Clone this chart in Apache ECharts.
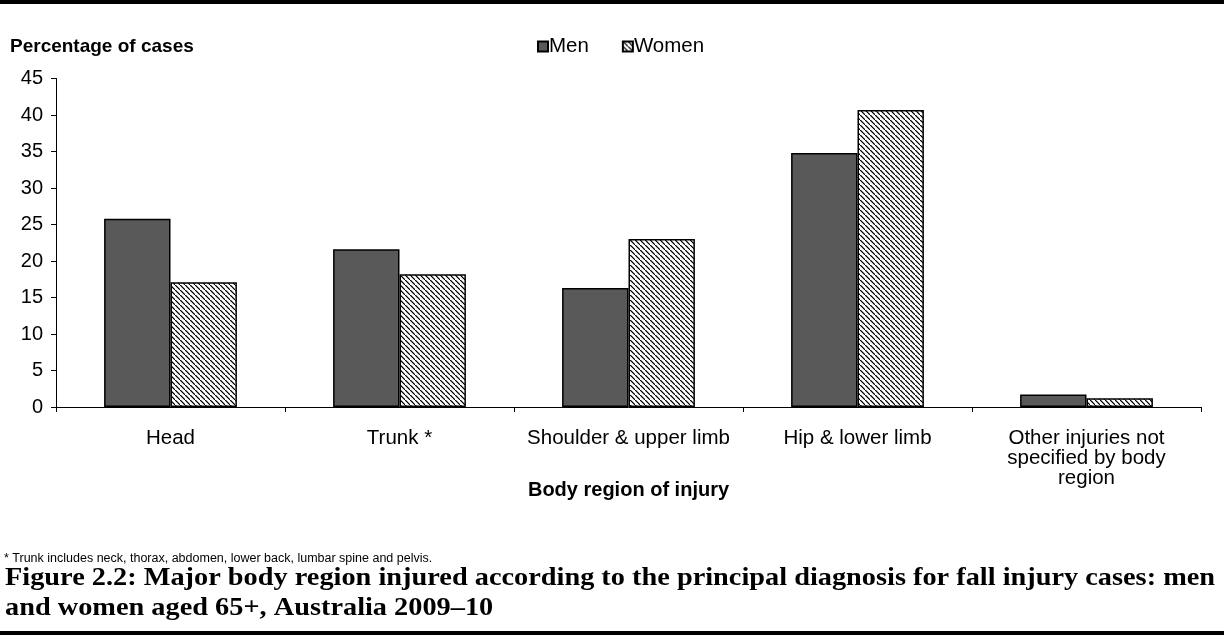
<!DOCTYPE html>
<html>
<head>
<meta charset="utf-8">
<script src="https://cdn.jsdelivr.net/npm/echarts@6/dist/echarts.min.js"></script>
<style>html,body{margin:0;padding:0;background:#fff;}#c{width:1224px;height:635px;}</style>
</head>
<body>
<div id="c"></div>
<script>
const categories = ['Head', 'Trunk *', 'Shoulder & upper limb', 'Hip & lower limb', 'Other injuries not\nspecified by body\nregion'];
const menValues = [25.8, 21.6, 16.3, 34.8, 1.7];
const womenValues = [17.1, 18.2, 23.0, 40.7, 1.2];
const yTicks = { min: 0, max: 45, interval: 5 };

function hatch() {
  const s = 5;
  const cv = document.createElement('canvas');
  cv.width = s; cv.height = s;
  const g = cv.getContext('2d');
  g.fillStyle = '#fff';
  g.fillRect(0, 0, s, s);
  g.fillStyle = '#000';
  for (let i = 0; i < s; i++) {
    g.fillRect(i, i, 1.5, 1.2);
  }
  return cv;
}
const pat = { image: hatch(), repeat: 'repeat' };

const chart = echarts.init(document.getElementById('c'), null, { renderer: 'canvas' });
const font = '"Liberation Sans", Arial, sans-serif';
chart.setOption({
  animation: false,
  backgroundColor: '#fff',
  textStyle: { fontFamily: font, color: '#000' },
  grid: { left: 56, right: 23, top: 78.5, bottom: 228, containLabel: false },
  legend: {
    left: 537, top: 36, padding: 0,
    icon: 'rect',
    itemWidth: 10, itemHeight: 10, itemGap: 33,
    textStyle: { fontFamily: font, fontSize: 20.5, color: '#000', padding: [0, 0, 0, -4] },
    data: ['Men', 'Women']
  },
  xAxis: {
    type: 'category',
    data: categories,
    axisLine: { lineStyle: { color: '#000', width: 1 } },
    axisTick: { show: true, length: 5, lineStyle: { color: '#000' } },
    axisLabel: { fontFamily: font, fontSize: 20.5, color: '#000', margin: 21, lineHeight: 20, interval: 0 },
    name: 'Body region of injury',
    nameLocation: 'middle',
    nameGap: 73,
    nameMoveOverlap: false,
    nameTextStyle: { fontFamily: font, fontSize: 20, fontWeight: 'bold', color: '#000' }
  },
  yAxis: {
    type: 'value',
    min: yTicks.min, max: yTicks.max, interval: yTicks.interval,
    splitLine: { show: false },
    axisLine: { show: true, lineStyle: { color: '#000', width: 1 } },
    axisTick: { show: true, length: 5, lineStyle: { color: '#000' } },
    axisLabel: { fontFamily: font, fontSize: 20, color: '#000', margin: 13 }
  },
  series: [
    {
      name: 'Men', type: 'bar', data: menValues,
      barGap: '0%', barCategoryGap: '42%',
      itemStyle: { color: '#595959', borderColor: '#000', borderWidth: 1.5 }
    },
    {
      name: 'Women', type: 'bar', data: womenValues,
      itemStyle: { color: pat, borderColor: '#000', borderWidth: 1.5 }
    }
  ],
  graphic: [
    { type: 'rect', left: 0, top: 0, shape: { width: 1224, height: 4 }, style: { fill: '#000' } },
    { type: 'rect', left: 0, top: 631, shape: { width: 1224, height: 4 }, style: { fill: '#000' } },
    { type: 'text', left: 10, top: 37, style: { text: 'Percentage of cases', font: 'bold 19px "Liberation Sans", Arial, sans-serif', fill: '#000' } },
    { type: 'text', left: 4, top: 552, style: { text: '* Trunk includes neck, thorax, abdomen, lower back, lumbar spine and pelvis.', font: '12.5px "Liberation Sans", Arial, sans-serif', fill: '#000' } },
    { type: 'text', x: 5, y: 564, scaleX: 1.133, style: { text: 'Figure 2.2: Major body region injured according to the principal diagnosis for fall injury cases: men\nand women aged 65+, Australia 2009–10', font: 'bold 25px "Liberation Serif", serif', lineHeight: 30, fill: '#000' } }
  ]
});
</script>
</body>
</html>
